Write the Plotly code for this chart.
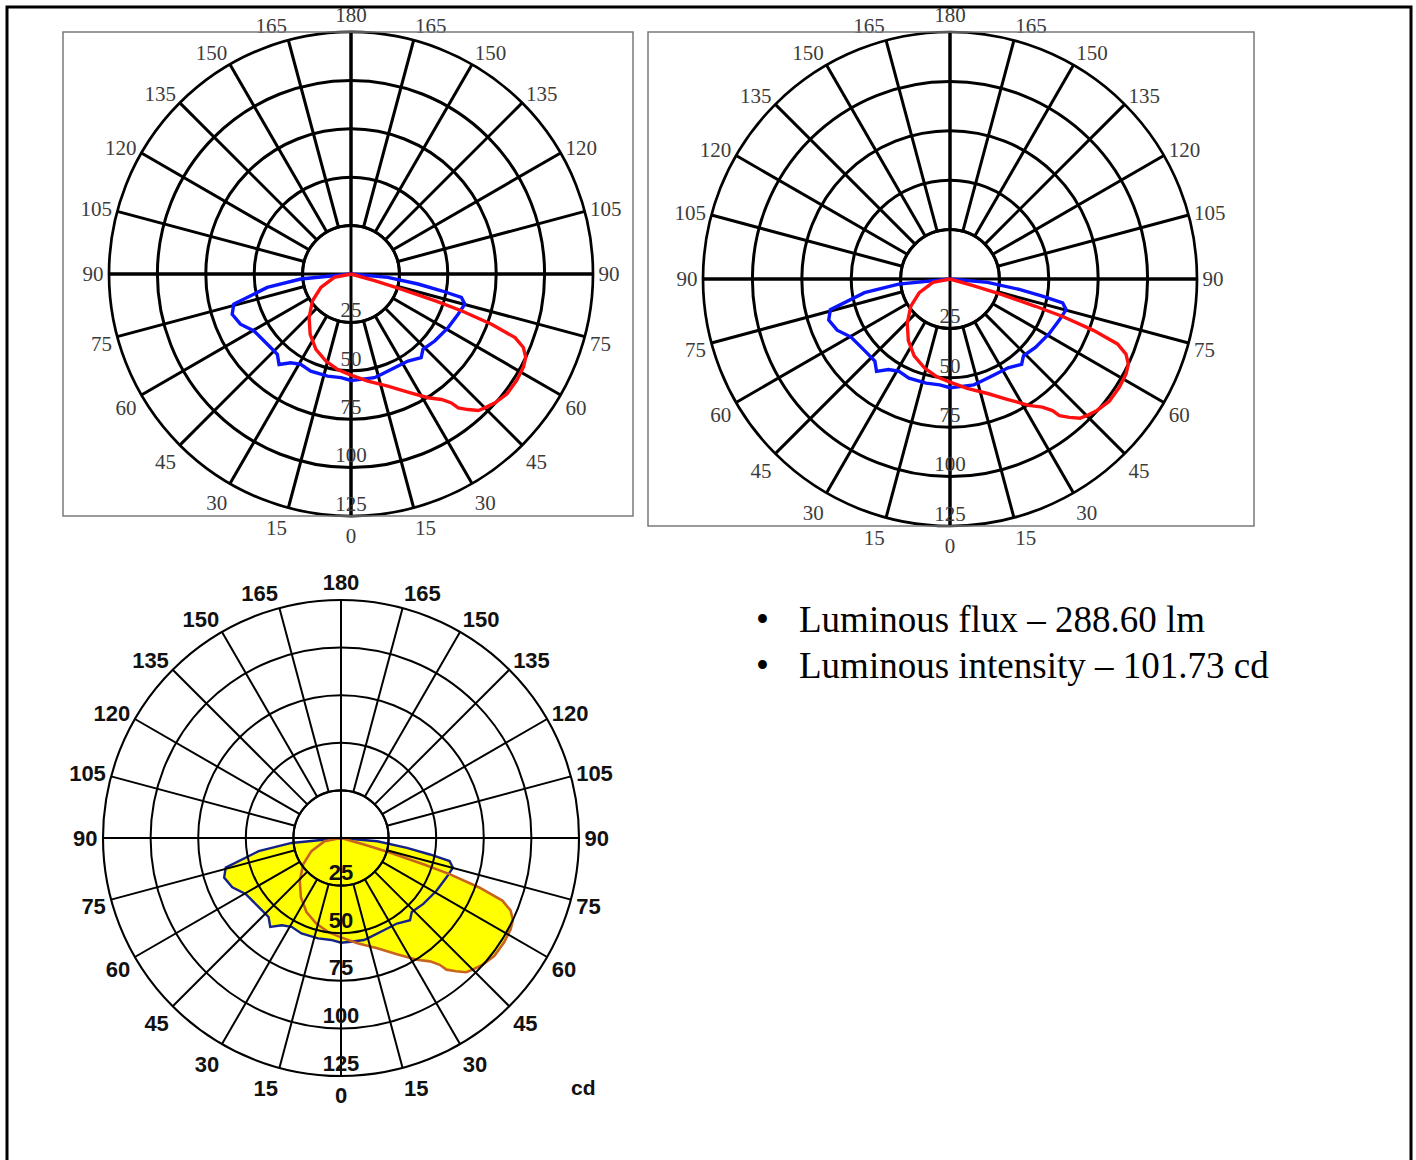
import plotly.graph_objects as go

W, H = 1416, 1160

# ---------------- data ----------------
GRID_ANGLES = list(range(0, 360, 15))
ANGLE_TEXT = [str(a if a <= 180 else 360 - a) for a in GRID_ANGLES]
RING_VALUES = [25, 50, 75, 100, 125]
AXIS_ANGLES = [0, 90, 180, 270]

# C0-C180 plane (blue), gamma in degrees (negative = left half), intensity in cd
BLUE_GAMMA = [-90, -84.3, -80.9, -75.6, -71.3, -65.6, -59.6, -50.0, -42.5, -38.5, -34.2,
              -29.1, -22.5, -12.9, -5.5, 0, 5.4, 12.7, 16.7, 24.9, 33.2, 40.0, 43.7, 51.3,
              61.1, 69.4, 75.2, 78.0, 79.5, 81.5, 84.8, 90]
BLUE_CD = [0, 26.1, 43.8, 62.5, 64.8, 62.7, 58.1, 56.4, 56.3, 59.7, 55.4,
           53.4, 54.3, 54.1, 53.8, 55.0, 54.7, 54.9, 54.2, 53.4, 53.7, 56.4, 53.8, 55.4,
           57.3, 59.1, 60.8, 58.3, 47.5, 35.0, 19.1, 0]

# C90-C270 plane (red)
RED_GAMMA = [-90, -78.7, -66.0, -55.2, -43.9, -34.1, -25.0, -16.1, -8.0, 0, 8.9, 18.2,
             25.7, 31.9, 35.8, 37.9, 38.7, 40.8, 43.0, 45.0, 48.2, 52.5, 57.4, 61.7, 64.5,
             66.9, 68.8, 70.3, 71.6, 72.3, 73.3, 74.1, 90]
RED_CD = [0, 8.8, 17.0, 24.2, 31.2, 37.6, 42.9, 46.8, 49.8, 52.2, 56.0, 61.0,
          67.7, 75.3, 79.9, 84.4, 88.6, 92.5, 96.4, 97.8, 99.8, 101.6, 101.7, 101.2, 100.0,
          96.8, 90.9, 77.1, 60.1, 45.4, 27.1, 12.6, 0]

BULLET_LINES = ["Luminous flux \u2013 288.60 lm", "Luminous intensity \u2013 101.73 cd"]
UNIT_LABEL = "cd"

# ---------------- helpers ----------------
fig = go.Figure()
layout_polars = {}
R_MAX = RING_VALUES[-1]


def dom(cx, cy, r):
    return dict(x=[(cx - r) / W, (cx + r) / W], y=[1 - (cy + r) / H, 1 - (cy - r) / H])


def base_ang(**kw):
    d = dict(rotation=-90, direction="counterclockwise", ticks="")
    d.update(kw)
    return d


def spokes_polar(name, d, gw, tickfont):
    layout_polars[name] = dict(
        domain=d, hole=RING_VALUES[0] / R_MAX, bgcolor="rgba(0,0,0,0)",
        angularaxis=base_ang(tickmode="array", tickvals=GRID_ANGLES, ticktext=ANGLE_TEXT,
                             showgrid=True, gridcolor="black", gridwidth=gw,
                             showline=True, linecolor="black", linewidth=gw,
                             tickfont=tickfont),
        radialaxis=dict(range=[RING_VALUES[0], R_MAX], tickmode="array",
                        tickvals=RING_VALUES[1:-1], showgrid=True, gridcolor="black",
                        gridwidth=gw, showline=False, showticklabels=False, ticks=""),
    )
    fig.add_trace(go.Scatterpolar(r=[], theta=[], subplot=name, showlegend=False))


def axes_polar(name, d, gw, labelfont):
    layout_polars[name] = dict(
        domain=d, bgcolor="rgba(0,0,0,0)",
        angularaxis=base_ang(tickmode="array", tickvals=AXIS_ANGLES, showgrid=True,
                             gridcolor="black", gridwidth=gw, showline=False,
                             showticklabels=False),
        radialaxis=dict(range=[0, R_MAX], tickmode="array", tickvals=RING_VALUES[:1],
                        showgrid=True, gridcolor="black", gridwidth=gw, showline=False,
                        showticklabels=False, ticks=""),
    )
    fig.add_trace(go.Scatterpolar(
        r=RING_VALUES, theta=[0] * len(RING_VALUES), text=[str(v) for v in RING_VALUES],
        mode="text", textposition="top center", textfont=labelfont, cliponaxis=False,
        subplot=name, showlegend=False, hoverinfo="skip"))


def data_polar(name, d):
    layout_polars[name] = dict(
        domain=d, bgcolor="rgba(0,0,0,0)",
        angularaxis=base_ang(showgrid=False, showline=False, showticklabels=False),
        radialaxis=dict(range=[0, R_MAX], showgrid=False, showline=False,
                        showticklabels=False, ticks=""),
    )


def line_traces(name, width):
    fig.add_trace(go.Scatterpolar(r=BLUE_CD, theta=BLUE_GAMMA, mode="lines",
                                  line=dict(color="#0a14ff", width=width),
                                  subplot=name, showlegend=False))
    fig.add_trace(go.Scatterpolar(r=RED_CD, theta=RED_GAMMA, mode="lines",
                                  line=dict(color="#ff1010", width=width),
                                  subplot=name, showlegend=False))


serif_tick = dict(family="Liberation Serif", size=21, color="#3c3c3c")
sans_tick = dict(family="Liberation Sans", size=22, color="#111111", weight="bold")

# ---- chart 1 (top left) ----
d1 = dom(351, 274, 242)
spokes_polar("polar", d1, 2.7, serif_tick)
axes_polar("polar2", d1, 2.7, serif_tick)
data_polar("polar3", d1)
line_traces("polar3", 3.4)

# ---- chart 2 (top right) ----
d2 = dom(950, 279, 247)
spokes_polar("polar4", d2, 2.7, serif_tick)
axes_polar("polar5", d2, 2.7, serif_tick)
data_polar("polar6", d2)
line_traces("polar6", 3.4)

# ---- chart 3 (bottom left, filled) ----
d3 = dom(341, 838, 238)
data_polar("polar7", d3)
for g, c in ((BLUE_GAMMA, BLUE_CD), (RED_GAMMA, RED_CD)):
    fig.add_trace(go.Scatterpolar(r=c, theta=g, mode="lines", fill="toself",
                                  fillcolor="#ffff00", line=dict(width=0, color="#ffff00"),
                                  subplot="polar7", showlegend=False))
fig.add_trace(go.Scatterpolar(r=BLUE_CD, theta=BLUE_GAMMA, mode="lines",
                              line=dict(color="#14228a", width=2.4),
                              subplot="polar7", showlegend=False))
fig.add_trace(go.Scatterpolar(r=RED_CD, theta=RED_GAMMA, mode="lines",
                              line=dict(color="#c8641e", width=2.6),
                              subplot="polar7", showlegend=False))
spokes_polar("polar8", d3, 2.1, sans_tick)
axes_polar("polar9", d3, 2.1, sans_tick)

# ---------------- layout ----------------
shapes = [
    dict(type="rect", xref="paper", yref="paper", x0=7 / W, x1=1411 / W,
         y0=1 - 1175 / H, y1=1 - 7 / H, line=dict(color="black", width=3)),
    dict(type="rect", xref="paper", yref="paper", x0=63 / W, x1=633 / W,
         y0=1 - 516 / H, y1=1 - 32 / H, line=dict(color="#7a7a7a", width=1.5)),
    dict(type="rect", xref="paper", yref="paper", x0=648 / W, x1=1254 / W,
         y0=1 - 526 / H, y1=1 - 32 / H, line=dict(color="#7a7a7a", width=1.5)),
]

annotations = []
for i, txt in enumerate(BULLET_LINES):
    yc = 1 - (619 + 46 * i) / H
    annotations.append(dict(x=762 / W, y=yc, xref="paper", yref="paper", text="\u2022",
                            showarrow=False, xanchor="center", yanchor="middle",
                            font=dict(family="Liberation Serif", size=37, color="black")))
    annotations.append(dict(x=797 / W, y=yc, xref="paper", yref="paper", text=txt,
                            showarrow=False, xanchor="left", yanchor="middle",
                            font=dict(family="Liberation Serif", size=37, color="black")))
annotations.append(dict(x=583 / W, y=1 - 1087 / H, xref="paper", yref="paper",
                        text=UNIT_LABEL, showarrow=False, xanchor="center", yanchor="middle",
                        font=dict(family="Liberation Sans", size=21, color="#111111",
                                  weight="bold")))

fig.update_layout(
    width=W, height=H, autosize=False,
    margin=dict(l=0, r=0, t=0, b=0),
    paper_bgcolor="white", plot_bgcolor="white",
    showlegend=False, shapes=shapes, annotations=annotations,
    **layout_polars,
)

fig.write_html("out.html", post_script="document.body.style.margin='0';",
               config={"displayModeBar": False})
